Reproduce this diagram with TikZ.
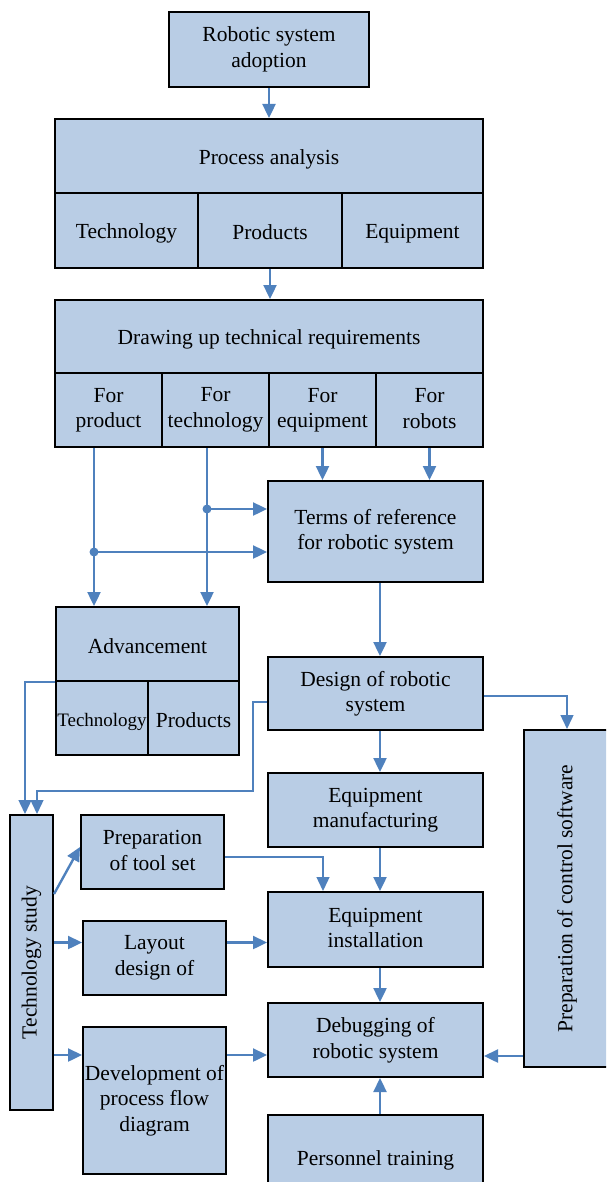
\documentclass[tikz,border=0pt]{standalone}
\usepackage{fontspec}
\setmainfont{Liberation Serif}
\usetikzlibrary{arrows.meta}
\definecolor{boxfill}{HTML}{B9CDE5}
\definecolor{flowblue}{HTML}{4F81BD}
\newcommand\boxstrut{\rule[-3pt]{0pt}{24.5pt}}
\tikzset{
  box/.style={rectangle,draw=black,line width=2pt,fill=boxfill,align=center,inner sep=0pt,
    font=\fontsize{21.5}{25.5}\selectfont,execute at begin node=\boxstrut,execute at end node=\boxstrut},
  smalltxt/.style={font=\fontsize{19}{22}\selectfont},
  vlab/.style={rotate=90,inner sep=0pt,font=\fontsize{21.5}{25.5}\selectfont},
  flow/.style={line width=2.4pt,flowblue,-{Triangle[length=14pt,width=13pt]}},
  thinflow/.style={line width=1.4pt,flowblue,-{Triangle[length=14pt,width=13pt]}},
  jdot/.style={circle,fill=flowblue,inner sep=0pt,minimum size=9pt}
}
\begin{document}
\begin{tikzpicture}[x=1pt,y=-1pt]
  \useasboundingbox (0,0) rectangle (606,1182);
  \clip (0,0) rectangle (606,1182);

  % upper part
  \node[box,minimum width=200pt,minimum height=75pt] (adopt) at (269,49.5) {Robotic system\\adoption};
  \node[box,minimum width=428pt,minimum height=74pt] (panal) at (269,156) {Process analysis};
  \node[box,minimum width=143pt,minimum height=75pt] (ptech) at (126.5,230.5) {Technology};
  \node[box,minimum width=144pt,minimum height=75pt] (pprod) at (270,230.5) {Products};
  \node[box,minimum width=141pt,minimum height=75pt] (pequip) at (412.5,230.5) {Equipment};

  \node[box,minimum width=428pt,minimum height=73pt] (dreq) at (269,336.5) {Drawing up technical requirements};
  \node[box,minimum width=107pt,minimum height=74pt] (dprod) at (108.5,410) {For\\product};
  \node[box,minimum width=107pt,minimum height=74pt] (dtech) at (215.5,410) {For\\technology};
  \node[box,minimum width=107pt,minimum height=74pt] (dequip) at (322.5,410) {For\\equipment};
  \node[box,minimum width=107pt,minimum height=74pt] (drob) at (429.5,410) {For\\robots};

  \node[box,minimum width=215pt,minimum height=101pt] (terms) at (375.5,531.5) {Terms of reference\\for robotic system};

  \node[box,minimum width=183pt,minimum height=74pt] (advtop) at (147.5,644) {Advancement};
  \node[box,smalltxt,minimum width=92pt,minimum height=74pt] (advtech) at (102,718) {Technology};
  \node[box,minimum width=91pt,minimum height=74pt] (advprod) at (193.5,718) {Products};

  % right column
  \node[box,minimum width=215pt,minimum height=73pt] (design) at (375.5,693.5) {Design of robotic\\system};
  \node[box,minimum width=215pt,minimum height=74pt] (manuf) at (375.5,810) {Equipment\\manufacturing};
  \node[box,minimum width=215pt,minimum height=75pt] (install) at (375.5,929.5) {Equipment\\installation};
  \node[box,minimum width=215pt,minimum height=74pt] (debug) at (375.5,1040) {Debugging of\\robotic system};
  \node[box,minimum width=215pt,minimum height=85pt] (train) at (375.5,1157.5) {Personnel training};

  \node[box,minimum width=86pt,minimum height=337pt] (ctrl) at (567,898.5) {};
  \node[vlab] (ctrllab) at (ctrl) {Preparation of control software};

  % left column
  \node[box,minimum width=43pt,minimum height=295pt] (tstudy) at (31.5,962.5) {};
  \node[vlab] (tstudylab) at (tstudy) {Technology study};
  \node[box,minimum width=143pt,minimum height=74pt] (tool) at (152.5,852) {Preparation\\of tool set};
  \node[box,minimum width=143pt,minimum height=74pt] (layout) at (154.5,958) {Layout\\design of};
  \node[box,minimum width=143pt,minimum height=147pt] (devel) at (154.5,1100.5) {Development of\\process flow\\diagram};

  % helper points
  \coordinate (spine) at (380,0);
  \coordinate (jprod) at (94,552);
  \coordinate (jtech) at (207,509);
  \coordinate (instin) at ([yshift=-13pt]install.west);
  \coordinate (dbgl) at ([yshift=-15pt]debug.west);
  \coordinate (dbgr) at ([yshift=-16pt]debug.east);

  % connectors
  \draw[flow] (adopt.south) -- (panal.north);
  \draw[flow] (pprod.south) -- (pprod.south |- dreq.north);
  \draw[flow] (dequip.south) -- (dequip.south |- terms.north);
  \draw[flow] (drob.south) -- (drob.south |- terms.north);

  \draw[flow] (dprod.south -| jprod) -- (jprod |- advtop.north);
  \draw[flow] (dtech.south -| jtech) -- (jtech |- advtop.north);
  \draw[flow] (jprod) -- (jprod -| terms.west);
  \draw[flow] (jtech) -- (jtech -| terms.west);
  \node[jdot] (dprodj) at (jprod) {};
  \node[jdot] (dtechj) at (jtech) {};

  \draw[flow] (terms.south -| spine) -- (design.north -| spine);
  \draw[flow] (design.south -| spine) -- (manuf.north -| spine);
  \draw[flow] (manuf.south -| spine) -- (install.north -| spine);
  \draw[flow] (install.south -| spine) -- (debug.north -| spine);
  \draw[flow] (train.north -| spine) -- (debug.south -| spine);

  \draw[thinflow] ([yshift=-2.5pt]design.east) -| (ctrl.north);
  \draw[flow] (ctrl.west |- dbgr) -- (dbgr);

  \draw[thinflow] (advtop.south west) -| ([xshift=-6.5pt]tstudy.north);
  \draw[thinflow] ([yshift=-8.5pt]design.west) -- ++(-14,0) -- ++(0,89) -| ([xshift=5.5pt]tstudy.north);

  \draw[flow] ([yshift=68.5pt]tstudy.east) -- ([yshift=5pt]tool.west);
  \draw[flow] (instin -| tstudy.east) -- (instin -| layout.west);
  \draw[flow] (dbgl -| tstudy.east) -- (dbgl -| devel.west);

  \draw[thinflow] ([yshift=-5pt]tool.east) -| ([xshift=-52.5pt]install.north);
  \draw[flow] (instin -| layout.east) -- (instin);
  \draw[flow] (dbgl -| devel.east) -- (dbgl);
\end{tikzpicture}
\end{document}
